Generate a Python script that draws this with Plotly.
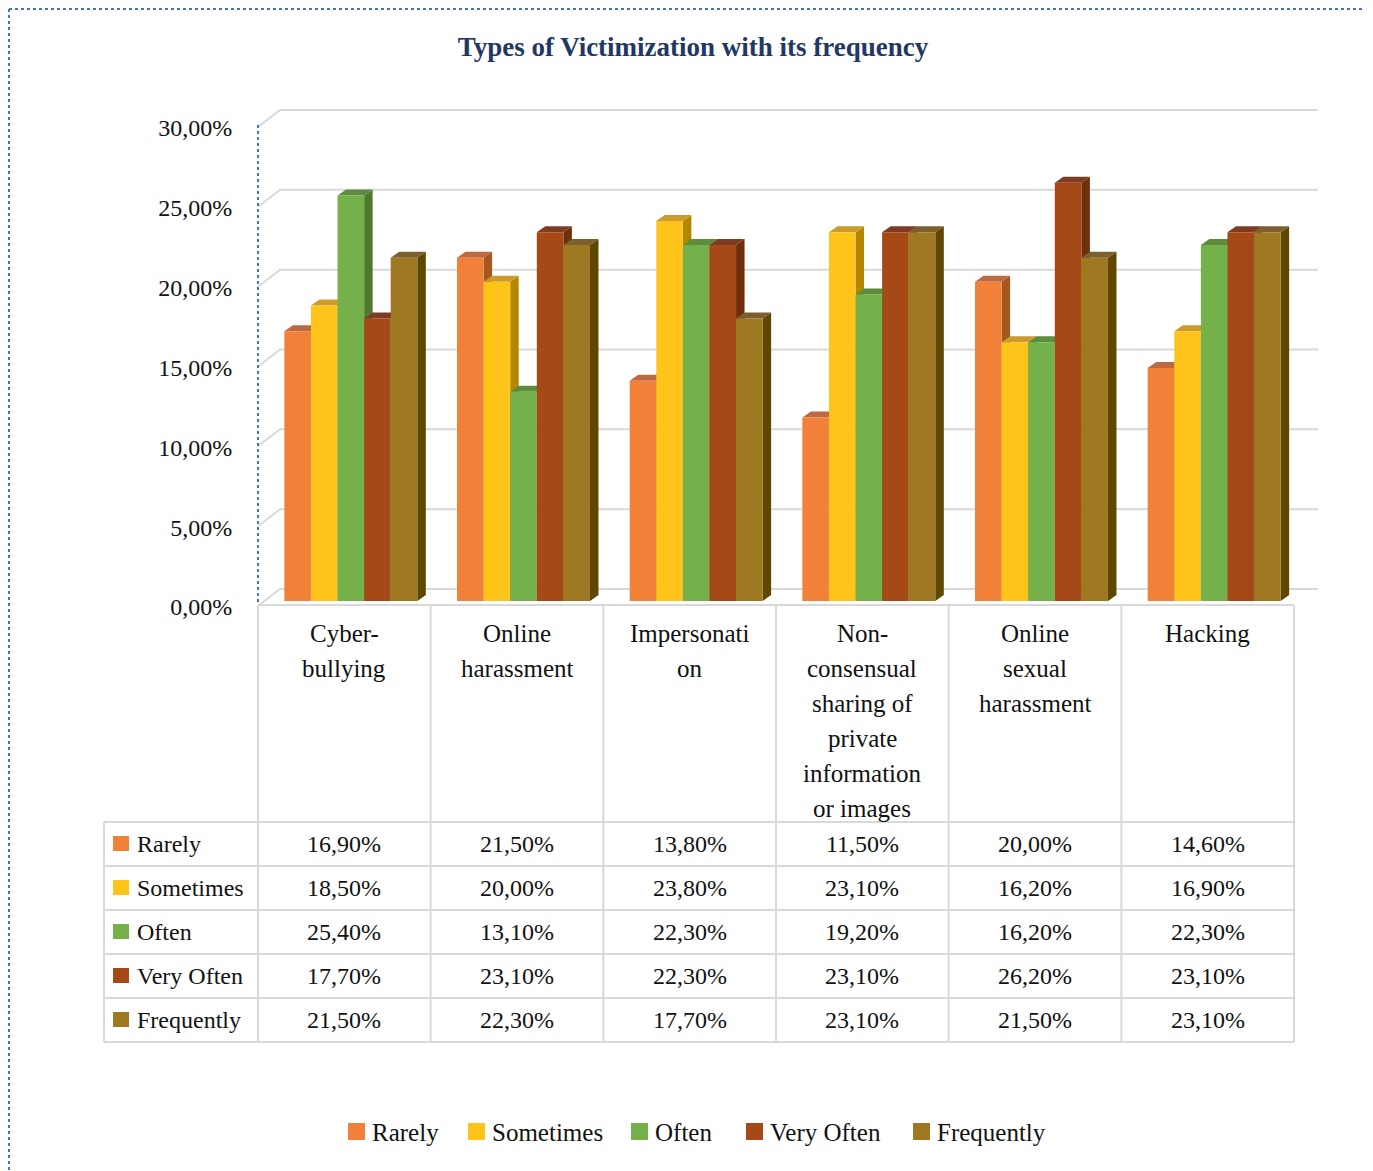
import plotly.graph_objects as go

# ---------------- data ----------------
categories = ["Cyber-bullying", "Online harassment", "Impersonation",
              "Non-consensual sharing of private information or images",
              "Online sexual harassment", "Hacking"]
category_lines = [["Cyber-", "bullying"],
                  ["Online", "harassment"],
                  ["Impersonati", "on"],
                  ["Non-", "consensual", "sharing of", "private", "information", "or images"],
                  ["Online", "sexual", "harassment"],
                  ["Hacking"]]
series_names = ["Rarely", "Sometimes", "Often", "Very Often", "Frequently"]
rarely = [16.9, 21.5, 13.8, 11.5, 20.0, 14.6]
sometimes = [18.5, 20.0, 23.8, 23.1, 16.2, 16.9]
often = [25.4, 13.1, 22.3, 19.2, 16.2, 22.3]
very_often = [17.7, 23.1, 22.3, 23.1, 26.2, 23.1]
frequently = [21.5, 22.3, 17.7, 23.1, 21.5, 23.1]
y_ticks = [0, 5, 10, 15, 20, 25, 30]
y_tick_labels = [f"{v:.2f}".replace(".", ",") + "%" for v in y_ticks]
title_text = "Types of Victimization with its frequency"

series_values = [rarely, sometimes, often, very_often, frequently]

# ---------------- styles ----------------
front_colors = ["#F18038", "#FFC419", "#74B14B", "#A54A17", "#9F7922"]
top_colors = ["#BC6A42", "#CB9B2E", "#5D8C3F", "#7E3C24", "#7B5F2F"]
side_colors = ["#A7561F", "#B38700", "#4D7A2F", "#6E2F0B", "#5F4700"]
FONT = "Liberation Serif, Times New Roman, serif"
GRID = "#D9D9D9"
BLUE_DOT = "#4472C4"
TXT = "#111111"

PAGE_OFF = 8                    # browser body margin
W, H = 1373, 1171
PX_L, PX_R = 258, 1294          # front floor left/right (screen px)
PY_0, PY_TOP = 606, 127         # front y for 0 and 30 (screen px)
NCAT = len(categories)
unit_x = (PX_R - PX_L) / NCAT
unit_y = (PY_0 - PY_TOP) / (y_ticks[-1] - y_ticks[0])
AX_TOP = y_ticks[-1] + 2        # axis extends a little above the last tick


def px2x(px):
    return (px - PAGE_OFF) / W


def py2y(py):
    return 1 - (py - PAGE_OFF) / H


def front_py(v):
    return PY_0 - v * unit_y


def cat_px(i):
    return PX_L + (i + 0.5) * unit_x


# bar plane offset (bars sit slightly behind the front edge)
BAR_DX, BAR_DY = 6.5, 5
# bar depth
DEP_DX, DEP_DY = 8.5 / unit_x, 6.0 / unit_y
# back wall offset
BACK_DX, BACK_DY = 22, 17
BAR_W = 0.154
GROUP_START = -0.385

fig = go.Figure()

shapes = []
annotations = []

# back-wall gridlines
for v in y_ticks:
    fy = front_py(v)
    shapes.append(dict(type="path", xref="paper", yref="paper", layer="below",
                       path=f"M{px2x(PX_L)},{py2y(fy)} L{px2x(PX_L + BACK_DX)},{py2y(fy - BACK_DY)} "
                            f"L{px2x(PX_R + BACK_DX + 2)},{py2y(fy - BACK_DY)}",
                       line=dict(color=GRID, width=2)))

# bars (front faces) + 3D faces
for k, (name, vals) in enumerate(zip(series_names, series_values)):
    off = GROUP_START + k * BAR_W
    fig.add_trace(go.Bar(
        x=list(range(NCAT)), y=vals, name=name,
        width=BAR_W, offset=off, showlegend=False,
        marker=dict(color=front_colors[k], line=dict(width=0)),
        hovertemplate=name + ": %{y:.2f}%<extra></extra>",
    ))
for i in range(NCAT):
    for k, vals in enumerate(series_values):
        v = vals[i]
        xl = i + GROUP_START + k * BAR_W
        xr = xl + BAR_W
        shapes.append(dict(type="path", xref="x", yref="y", layer="between",
                           path=f"M{xr},0 L{xr},{v} L{xr + DEP_DX},{v + DEP_DY} L{xr + DEP_DX},{DEP_DY} Z",
                           fillcolor=side_colors[k], line=dict(width=0)))
        shapes.append(dict(type="path", xref="x", yref="y", layer="between",
                           path=f"M{xl},{v} L{xr},{v} L{xr + DEP_DX},{v + DEP_DY} L{xl + DEP_DX},{v + DEP_DY} Z",
                           fillcolor=top_colors[k], line=dict(width=0)))

# dotted blue lines (axis edge and page border)
shapes.append(dict(type="line", xref="paper", yref="paper",
                   x0=px2x(PX_L), x1=px2x(PX_L), y0=py2y(125), y1=py2y(604),
                   line=dict(color=BLUE_DOT, width=2, dash="dot")))
shapes.append(dict(type="line", xref="paper", yref="paper",
                   x0=px2x(9), x1=px2x(9), y0=py2y(9), y1=0,
                   line=dict(color=BLUE_DOT, width=2, dash="dot")))
shapes.append(dict(type="line", xref="paper", yref="paper",
                   x0=px2x(9), x1=1, y0=py2y(9), y1=py2y(9),
                   line=dict(color=BLUE_DOT, width=2, dash="dot")))

# ---------------- data table ----------------
T_TOP, T_HEAD_BOT, ROW_H = 605, 822, 44
T_LEFT = 104
n_rows = len(series_names)
T_BOT = T_HEAD_BOT + n_rows * ROW_H

shapes.append(dict(type="line", xref="paper", yref="paper",
                   x0=px2x(PX_L), x1=px2x(PX_R), y0=py2y(T_TOP), y1=py2y(T_TOP),
                   line=dict(color=GRID, width=2)))
for r in range(n_rows + 1):
    yy = py2y(T_HEAD_BOT + r * ROW_H)
    shapes.append(dict(type="line", xref="paper", yref="paper",
                       x0=px2x(T_LEFT), x1=px2x(PX_R), y0=yy, y1=yy,
                       line=dict(color=GRID, width=2)))
for i in range(NCAT + 1):
    xx = px2x(PX_L + i * unit_x)
    shapes.append(dict(type="line", xref="paper", yref="paper",
                       x0=xx, x1=xx, y0=py2y(T_TOP), y1=py2y(T_BOT),
                       line=dict(color=GRID, width=2)))
shapes.append(dict(type="line", xref="paper", yref="paper",
                   x0=px2x(T_LEFT), x1=px2x(T_LEFT), y0=py2y(T_HEAD_BOT), y1=py2y(T_BOT),
                   line=dict(color=GRID, width=2)))

# category labels
for i, lines in enumerate(category_lines):
    for j, line in enumerate(lines):
        annotations.append(dict(x=px2x(cat_px(i)), y=py2y(633 + 35 * j), xref="paper", yref="paper",
                                text=line, showarrow=False, xanchor="center", yanchor="middle",
                                font=dict(family=FONT, size=25, color=TXT)))

# rows
for r, (name, vals) in enumerate(zip(series_names, series_values)):
    cy = T_HEAD_BOT + r * ROW_H + ROW_H / 2
    shapes.append(dict(type="rect", xref="paper", yref="paper",
                       x0=px2x(113), x1=px2x(129), y0=py2y(cy + 7), y1=py2y(cy - 8),
                       fillcolor=front_colors[r], line=dict(width=0)))
    annotations.append(dict(x=px2x(135), y=py2y(cy), xref="paper", yref="paper",
                            text=name, showarrow=False, xanchor="left", yanchor="middle",
                            font=dict(family=FONT, size=24, color=TXT)))
    for i, v in enumerate(vals):
        annotations.append(dict(x=px2x(cat_px(i)), y=py2y(cy), xref="paper", yref="paper",
                                text=f"{v:.2f}".replace(".", ",") + "%", showarrow=False,
                                xanchor="center", yanchor="middle",
                                font=dict(family=FONT, size=24, color=TXT)))

# ---------------- legend (bottom) ----------------
LEG_Y = 1132
legend_left = [348, 468, 631, 746, 913]
for name, lx, col in zip(series_names, legend_left, front_colors):
    shapes.append(dict(type="rect", xref="paper", yref="paper",
                       x0=px2x(lx), x1=px2x(lx + 17), y0=py2y(LEG_Y + 8), y1=py2y(LEG_Y - 9),
                       fillcolor=col, line=dict(width=0)))
    annotations.append(dict(x=px2x(lx + 22), y=py2y(LEG_Y), xref="paper", yref="paper",
                            text=name, showarrow=False, xanchor="left", yanchor="middle",
                            font=dict(family=FONT, size=25, color=TXT)))

y_dom = [py2y(PY_0), py2y(front_py(AX_TOP))]
x_dom = [px2x(PX_L), px2x(PX_R)]

fig.update_layout(
    width=W, height=H,
    margin=dict(l=0, r=0, t=0, b=0, autoexpand=False),
    paper_bgcolor="white", plot_bgcolor="rgba(0,0,0,0)",
    separators=",.",
    barmode="overlay",
    showlegend=False,
    title=dict(text=title_text, x=px2x(693), y=py2y(47), xanchor="center", yanchor="middle",
               xref="paper", yref="paper", automargin=False,
               font=dict(family=FONT, size=27, color="#1F3864", weight="bold")),
    xaxis=dict(domain=x_dom, range=[-0.5 - BAR_DX / unit_x, NCAT - 0.5 - BAR_DX / unit_x],
               showgrid=False, zeroline=False, showticklabels=False, showline=False,
               automargin=False, fixedrange=True),
    yaxis=dict(domain=y_dom, range=[y_ticks[0] - BAR_DY / unit_y, AX_TOP - BAR_DY / unit_y],
               tickvals=y_ticks, ticktext=y_tick_labels, ticklabelshift=6,
               showgrid=False, zeroline=False, automargin=False,
               showline=False, ticks="outside", ticklen=20, tickcolor="rgba(0,0,0,0)",
               tickfont=dict(family=FONT, size=24, color=TXT), fixedrange=True),
    shapes=shapes,
    annotations=annotations,
)

fig.write_html("out.html")
